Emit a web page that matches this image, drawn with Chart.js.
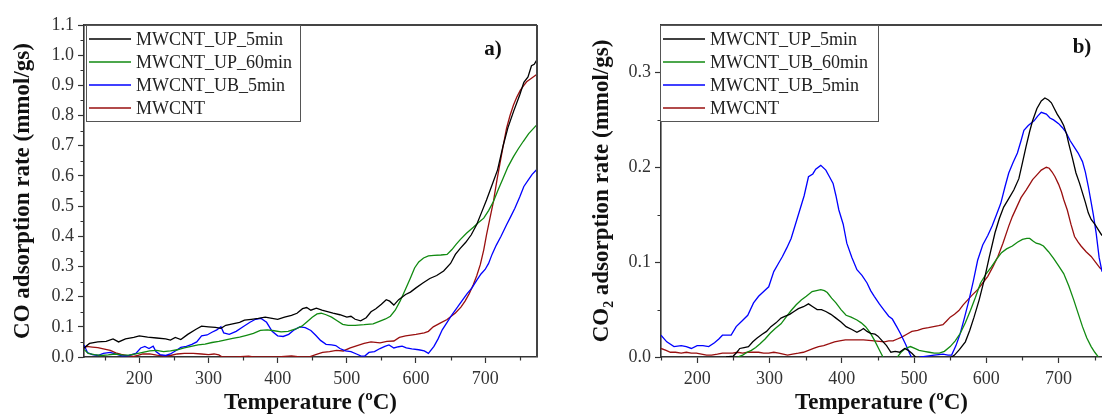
<!DOCTYPE html>
<html>
<head>
<meta charset="utf-8">
<script src="https://cdn.jsdelivr.net/npm/chart.js@4.4.1/dist/chart.umd.min.js"></script>
<style>
  html, body { margin: 0; padding: 0; background: #fff; }
  body { width: 1102px; height: 418px; position: relative; overflow: hidden; }
  .panel { position: absolute; top: 0; }
</style>
</head>
<body>
<div class="panel" style="left:0"><canvas id="chartCO" width="545" height="418"></canvas></div>
<div class="panel" style="left:545px"><canvas id="chartCO2" width="557" height="418"></canvas></div>
<script>
// ---- panel a) CO adsorption rate, [temperature, mmol/gs]
const coLabels = ['MWCNT_UP_5min', 'MWCNT_UP_60min', 'MWCNT_UB_5min', 'MWCNT'];
const coUp5 = [[120,0.03],[128,0.045],[140,0.05],[152,0.052],[162,0.06],[170,0.05],[180,0.06],[192,0.065],[200,0.07],[212,0.066],[225,0.063],[238,0.06],[245,0.056],[252,0.065],[260,0.058],[270,0.075],[282,0.092],[290,0.102],[300,0.1],[310,0.098],[318,0.095],[325,0.105],[335,0.11],[345,0.115],[352,0.122],[362,0.125],[372,0.128],[382,0.132],[392,0.128],[400,0.125],[410,0.132],[420,0.138],[428,0.145],[436,0.16],[442,0.164],[448,0.155],[456,0.162],[464,0.155],[472,0.15],[480,0.145],[490,0.14],[500,0.132],[506,0.135],[512,0.125],[520,0.12],[528,0.13],[535,0.15],[542,0.16],[550,0.175],[557,0.19],[562,0.185],[568,0.172],[575,0.19],[585,0.207],[592,0.215],[600,0.229],[610,0.245],[620,0.26],[630,0.27],[640,0.285],[650,0.31],[657,0.34],[664,0.36],[672,0.38],[680,0.405],[688,0.44],[695,0.48],[702,0.52],[710,0.57],[718,0.62],[726,0.7],[733,0.76],[741,0.813],[750,0.868],[756,0.91],[762,0.928],[767,0.965],[771,0.97],[775,0.985]];
const coUp60 = [[120,0.025],[126,0.012],[135,0.008],[145,0.005],[155,0.007],[165,0.01],[175,0.007],[185,0.006],[195,0.01],[205,0.015],[215,0.02],[225,0.022],[235,0.018],[245,0.02],[255,0.024],[265,0.03],[275,0.035],[285,0.04],[295,0.043],[305,0.048],[315,0.052],[325,0.057],[335,0.062],[345,0.066],[355,0.072],[365,0.078],[375,0.088],[385,0.09],[395,0.087],[405,0.083],[415,0.085],[425,0.092],[435,0.102],[443,0.118],[450,0.132],[457,0.143],[463,0.145],[470,0.14],[478,0.132],[486,0.12],[494,0.108],[502,0.105],[512,0.105],[525,0.107],[538,0.11],[548,0.119],[556,0.126],[563,0.135],[570,0.155],[577,0.185],[585,0.225],[592,0.262],[598,0.295],[604,0.315],[611,0.328],[618,0.335],[626,0.337],[636,0.338],[645,0.34],[652,0.356],[658,0.373],[664,0.389],[673,0.41],[683,0.43],[690,0.445],[698,0.46],[705,0.485],[712,0.515],[719,0.555],[726,0.592],[733,0.63],[741,0.664],[748,0.69],[755,0.714],[763,0.74],[775,0.77]];
const coUb5 = [[120,0.04],[125,0.015],[132,0.008],[140,0.005],[148,0.012],[158,0.015],[165,0.01],[175,0.004],[185,0.005],[195,0.012],[202,0.03],[208,0.035],[214,0.028],[220,0.036],[224,0.018],[230,0.008],[238,0.005],[245,0.01],[252,0.02],[260,0.032],[268,0.035],[276,0.042],[283,0.05],[290,0.07],[298,0.073],[305,0.082],[312,0.09],[318,0.1],[322,0.08],[330,0.075],[340,0.085],[350,0.1],[360,0.115],[368,0.125],[376,0.128],[384,0.115],[392,0.085],[400,0.07],[408,0.068],[416,0.075],[424,0.09],[432,0.1],[440,0.097],[448,0.088],[455,0.072],[462,0.055],[470,0.042],[478,0.04],[484,0.038],[490,0.028],[498,0.02],[506,0.018],[514,0.01],[520,0.004],[526,0.003],[532,0.015],[540,0.018],[548,0.028],[555,0.035],[561,0.04],[568,0.03],[575,0.034],[580,0.036],[586,0.03],[594,0.027],[604,0.024],[612,0.02],[618,0.012],[626,0.035],[632,0.06],[638,0.09],[645,0.115],[652,0.14],[660,0.165],[667,0.188],[674,0.21],[681,0.229],[688,0.255],[694,0.275],[700,0.29],[705,0.31],[710,0.34],[716,0.37],[723,0.4],[731,0.438],[737,0.465],[743,0.493],[750,0.53],[756,0.565],[762,0.585],[768,0.605],[775,0.622]];
const coMw = [[120,0.028],[124,0.035],[132,0.033],[140,0.031],[148,0.027],[158,0.022],[166,0.014],[174,0.009],[184,0.004],[192,0.002],[198,0.005],[205,0.01],[215,0.01],[225,0.006],[235,0.004],[245,0.005],[255,0.01],[265,0.012],[278,0.012],[290,0.01],[300,0.008],[308,0.01],[315,0.007],[320,0.0],[340,0.0],[358,0.003],[365,0.0],[400,0.0],[420,0.004],[432,0.0],[445,0.0],[455,0.008],[465,0.015],[475,0.018],[485,0.022],[495,0.02],[505,0.03],[515,0.038],[525,0.045],[535,0.05],[548,0.047],[558,0.052],[568,0.053],[576,0.065],[585,0.07],[600,0.075],[612,0.08],[618,0.085],[625,0.1],[635,0.112],[645,0.124],[657,0.146],[665,0.165],[671,0.185],[677,0.21],[683,0.24],[688,0.27],[693,0.306],[698,0.355],[702,0.405],[707,0.46],[712,0.515],[717,0.585],[722,0.648],[727,0.71],[731,0.758],[736,0.8],[741,0.835],[746,0.862],[751,0.884],[756,0.9],[760,0.912],[766,0.922],[775,0.937]];
const coXTicks = [200, 300, 400, 500, 600, 700];
const coXMinor = [150, 250, 350, 450, 550, 650, 750];
const coYTicks = [0, 0.1, 0.2, 0.3, 0.4, 0.5, 0.6, 0.7, 0.8, 0.9, 1.0, 1.1];
const coYMinor = [0.05, 0.15, 0.25, 0.35, 0.45, 0.55, 0.65, 0.75, 0.85, 0.95, 1.05];

// ---- panel b) CO2 adsorption rate
const co2Labels = ['MWCNT_UP_5min', 'MWCNT_UB_60min', 'MWCNT_UB_5min', 'MWCNT'];
const co2Up5 = [[240,0.0],[250,0.001],[255,0.005],[259,0.009],[265,0.01],[271,0.011],[277,0.016],[283,0.02],[290,0.024],[296,0.027],[302,0.032],[309,0.036],[316,0.041],[322,0.043],[328,0.045],[334,0.048],[340,0.051],[347,0.053],[354,0.056],[360,0.053],[366,0.05],[372,0.05],[378,0.048],[385,0.045],[392,0.041],[399,0.037],[406,0.032],[414,0.029],[421,0.026],[426,0.028],[430,0.03],[435,0.027],[440,0.025],[446,0.024],[450,0.022],[456,0.017],[462,0.012],[468,0.005],[474,0.006],[480,0.005],[487,0.009],[492,0.007],[497,0.004],[502,0.0],[506,-0.005],[548,-0.005],[552,0.0],[556,0.002],[563,0.008],[571,0.016],[577,0.028],[583,0.042],[590,0.06],[597,0.081],[604,0.105],[612,0.131],[618,0.146],[624,0.158],[631,0.167],[638,0.176],[645,0.188],[650,0.205],[655,0.222],[660,0.238],[664,0.249],[670,0.262],[676,0.27],[681,0.273],[686,0.271],[690,0.268],[694,0.262],[698,0.256],[703,0.25],[707,0.244],[711,0.235],[714,0.225],[719,0.21],[724,0.194],[729,0.183],[733,0.173],[737,0.163],[741,0.152],[745,0.145],[750,0.14],[755,0.134],[760,0.128]];
const co2Ub60 = [[249,-0.003],[256,0.0],[263,0.002],[269,0.005],[275,0.007],[281,0.01],[287,0.014],[294,0.019],[301,0.025],[308,0.03],[316,0.035],[323,0.042],[330,0.049],[337,0.055],[344,0.06],[351,0.064],[359,0.069],[365,0.07],[371,0.071],[376,0.07],[380,0.068],[386,0.062],[392,0.057],[399,0.05],[406,0.044],[413,0.042],[421,0.039],[427,0.036],[433,0.032],[439,0.026],[445,0.018],[451,0.009],[457,0.0],[462,-0.006],[472,-0.006],[477,0.0],[482,0.005],[488,0.009],[495,0.011],[501,0.009],[507,0.007],[514,0.006],[521,0.005],[528,0.004],[535,0.004],[542,0.006],[550,0.011],[557,0.017],[564,0.025],[571,0.036],[578,0.049],[585,0.063],[592,0.078],[600,0.088],[607,0.095],[614,0.103],[621,0.11],[628,0.114],[636,0.117],[643,0.121],[650,0.124],[656,0.125],[660,0.125],[665,0.122],[669,0.12],[674,0.119],[679,0.117],[686,0.111],[693,0.104],[700,0.096],[707,0.088],[714,0.075],[721,0.06],[727,0.046],[733,0.032],[739,0.02],[745,0.011],[750,0.005],[755,0.0],[760,-0.008]];
const co2Ub5 = [[150,0.023],[158,0.016],[168,0.011],[178,0.012],[185,0.011],[192,0.009],[200,0.012],[208,0.012],[216,0.011],[224,0.015],[230,0.019],[235,0.023],[247,0.023],[254,0.032],[262,0.038],[270,0.044],[278,0.057],[285,0.064],[292,0.069],[299,0.074],[306,0.09],[312,0.098],[318,0.106],[324,0.115],[330,0.125],[336,0.14],[342,0.155],[348,0.17],[354,0.19],[360,0.193],[364,0.198],[371,0.202],[378,0.197],[383,0.19],[388,0.183],[392,0.17],[396,0.155],[402,0.14],[407,0.12],[414,0.105],[421,0.092],[428,0.086],[435,0.078],[440,0.07],[445,0.064],[452,0.056],[459,0.049],[465,0.043],[470,0.04],[476,0.032],[481,0.025],[488,0.014],[495,0.002],[500,-0.005],[508,0.0],[518,0.001],[528,0.002],[540,0.003],[547,0.002],[552,0.002],[558,0.012],[564,0.025],[570,0.042],[576,0.06],[582,0.08],[588,0.102],[595,0.118],[602,0.128],[608,0.138],[614,0.15],[620,0.162],[626,0.18],[631,0.194],[637,0.205],[643,0.215],[648,0.228],[652,0.239],[658,0.244],[666,0.249],[671,0.254],[676,0.258],[683,0.256],[688,0.252],[693,0.25],[700,0.246],[705,0.242],[710,0.237],[716,0.228],[721,0.222],[727,0.215],[733,0.206],[737,0.195],[741,0.18],[745,0.163],[748,0.15],[752,0.13],[756,0.105],[760,0.09]];
const co2Mw = [[150,0.009],[157,0.007],[163,0.005],[170,0.005],[178,0.004],[185,0.005],[192,0.004],[199,0.004],[206,0.003],[213,0.002],[220,0.002],[228,0.003],[235,0.004],[242,0.004],[249,0.004],[256,0.005],[263,0.004],[270,0.005],[278,0.005],[285,0.005],[292,0.004],[299,0.004],[306,0.005],[313,0.004],[319,0.003],[325,0.002],[332,0.003],[340,0.004],[347,0.005],[354,0.007],[361,0.009],[368,0.011],[375,0.012],[383,0.014],[390,0.016],[397,0.017],[405,0.018],[416,0.018],[430,0.018],[445,0.017],[459,0.016],[465,0.017],[471,0.017],[477,0.019],[483,0.021],[490,0.024],[497,0.027],[505,0.028],[512,0.03],[520,0.031],[527,0.032],[534,0.033],[540,0.034],[545,0.038],[550,0.042],[556,0.045],[562,0.049],[568,0.055],[574,0.06],[580,0.065],[588,0.071],[595,0.078],[602,0.085],[609,0.095],[616,0.106],[623,0.12],[631,0.138],[636,0.148],[642,0.158],[648,0.168],[655,0.176],[660,0.182],[664,0.187],[670,0.192],[676,0.197],[683,0.2],[687,0.199],[691,0.195],[695,0.19],[700,0.182],[704,0.174],[707,0.166],[712,0.155],[717,0.14],[722,0.127],[727,0.121],[731,0.117],[738,0.111],[745,0.106],[751,0.1],[757,0.094],[760,0.092]];
const co2XTicks = [200, 300, 400, 500, 600, 700];
const co2XMinor = [150, 250, 350, 450, 550, 650, 750];
const co2YTicks = [0, 0.1, 0.2, 0.3];
const co2YMinor = [0.05, 0.15, 0.25];

const seriesColors = ['#000000', '#118a11', '#0000ff', '#990f0f'];
const SERIF = '"Liberation Serif", "Times New Roman", serif';
const AXIS = '#333333';

// frame: top/right border, minor ticks, boxed legend and panel tag
const framePlugin = {
  id: 'frame',
  afterDraw(chart, args, opts) {
    const { ctx, chartArea: a, scales: { x, y } } = chart;
    ctx.save();
    ctx.strokeStyle = '#444';
    ctx.lineWidth = 2;
    ctx.beginPath();
    ctx.moveTo(a.left, a.top);
    ctx.lineTo(a.right, a.top);
    if (opts.right) { ctx.moveTo(a.right, a.top); ctx.lineTo(a.right, a.bottom); }
    ctx.stroke();

    ctx.strokeStyle = AXIS;
    ctx.lineWidth = 1.2;
    ctx.beginPath();
    opts.minorX.forEach(v => {
      const px = Math.round(x.getPixelForValue(v)) + 0.5;
      ctx.moveTo(px, a.bottom); ctx.lineTo(px, a.bottom + 3.5);
    });
    opts.minorY.forEach(v => {
      const py = Math.round(y.getPixelForValue(v)) + 0.5;
      ctx.moveTo(a.left, py); ctx.lineTo(a.left - 3.5, py);
    });
    ctx.stroke();

    // legend box
    const L = opts.legend;
    ctx.fillStyle = '#fff';
    ctx.fillRect(L.x, L.y, L.w, L.h);
    ctx.strokeStyle = '#555';
    ctx.lineWidth = 1;
    ctx.strokeRect(L.x + 0.5, L.y + 0.5, L.w, L.h);
    ctx.font = '18px ' + SERIF;
    ctx.textBaseline = 'middle';
    chart.data.datasets.forEach((ds, i) => {
      const ry = L.y + L.first + i * L.row;
      ctx.strokeStyle = ds.borderColor;
      ctx.lineWidth = 1.5;
      ctx.beginPath();
      ctx.moveTo(L.x + 3, ry); ctx.lineTo(L.x + L.line, ry);
      ctx.stroke();
      ctx.fillStyle = '#222';
      ctx.fillText(ds.label, L.x + L.line + 5, ry + 1);
    });

    ctx.font = 'bold 21px ' + SERIF;
    ctx.fillStyle = '#111';
    ctx.textAlign = 'center';
    ctx.fillText(opts.tag, opts.tagX, opts.tagY);
    ctx.restore();
  }
};

function makeChart(id, cfg) {
  const datasets = cfg.series.map((s, i) => ({
    label: cfg.labels[i],
    data: s,
    borderColor: seriesColors[i],
    borderWidth: 1.3,
    pointRadius: 0,
    tension: 0
  }));
  return new Chart(document.getElementById(id), {
    type: 'line',
    data: { datasets },
    options: {
      responsive: false,
      animation: false,
      devicePixelRatio: 1,
      layout: { padding: { top: 25, right: cfg.padRight, left: 0, bottom: 0 } },
      plugins: {
        legend: { display: false },
        tooltip: { enabled: false },
        frame: cfg.frame
      },
      scales: {
        x: {
          type: 'linear',
          min: cfg.xMin, max: cfg.xMax,
          afterBuildTicks: s => { s.ticks = cfg.xTicks.map(v => ({ value: v })); },
          afterFit: s => { s.height = 61; },
          grid: { drawOnChartArea: false, tickLength: 6, tickColor: AXIS, tickWidth: 1.2 },
          border: { color: AXIS, width: 1.6 },
          ticks: { color: '#333', padding: 5, font: { family: SERIF, size: 18 }, maxRotation: 0, autoSkip: false },
          title: { display: true, text: 'Temperature (\u00baC)', color: '#111',
                   font: { family: SERIF, size: 23, weight: 'bold' }, padding: { top: 0, bottom: 1 } }
        },
        y: {
          min: 0, max: cfg.yMax,
          afterBuildTicks: s => { s.ticks = cfg.yTicks.map(v => ({ value: v })); },
          afterFit: s => { s.width = cfg.yWidth; },
          grid: { drawOnChartArea: false, tickLength: 6, tickColor: AXIS, tickWidth: 1.2 },
          border: { color: AXIS, width: 1.6 },
          ticks: { color: '#333', padding: 4, font: { family: SERIF, size: 18 },
                   callback: v => v.toFixed(1), autoSkip: false },
          title: { display: true, text: cfg.yTitle, color: '#111',
                   font: { family: SERIF, size: 23, weight: 'bold' }, padding: { top: cfg.yTitlePad, bottom: 0 } }
        }
      }
    },
    plugins: [framePlugin]
  });
}

makeChart('chartCO', {
  labels: coLabels,
  series: [coUp5, coUp60, coUb5, coMw],
  xMin: 120, xMax: 775, yMax: 1.1,
  xTicks: coXTicks, yTicks: coYTicks,
  yWidth: 84, padRight: 8, yTitlePad: 9,
  yTitle: 'CO adsorption rate (mmol/gs)',
  frame: { right: true, minorX: coXMinor, minorY: coYMinor, tag: 'a)', tagX: 493, tagY: 50,
           legend: { x: 86, y: 25, w: 214, h: 96, first: 14, row: 23, line: 45 } }
});

makeChart('chartCO2', {
  labels: co2Labels,
  series: [co2Up5, co2Ub60, co2Ub5, co2Mw],
  xMin: 150, xMax: 760, yMax: 0.35,
  xTicks: co2XTicks, yTicks: co2YTicks,
  yWidth: 116, padRight: 0, yTitlePad: 43,
  yTitle: 'CO\u2082 adsorption rate (mmol/gs)',
  frame: { right: false, minorX: co2XMinor, minorY: co2YMinor, tag: 'b)', tagX: 537, tagY: 48,
           legend: { x: 115, y: 25, w: 218, h: 96, first: 14, row: 23, line: 45 } }
});
</script>
</body>
</html>
